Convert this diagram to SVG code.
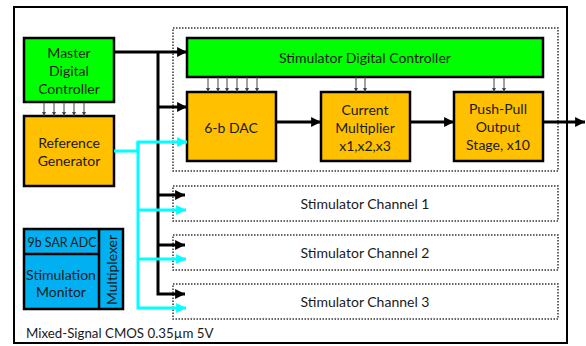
<svg xmlns="http://www.w3.org/2000/svg" width="586" height="346" viewBox="0 0 586 346">
<defs>
<style>
.t{font-family:Lato,"Open Sans",sans-serif;font-size:14px;fill:#1a1a1a;text-anchor:middle;dominant-baseline:central}
.box{stroke:#000;stroke-width:2.5}
.g{fill:#00ff00}
.o{fill:#ffc000}
.b{fill:#00b0f0}
.dot{fill:none;stroke:#333;stroke-width:1.5;stroke-dasharray:1.5 1.5}
.bk{fill:none;stroke:#000;stroke-width:3}
.cy{fill:none;stroke:#00ffff;stroke-width:3}
.sm{stroke:#444;stroke-width:1}
</style>
<marker id="ab" viewBox="0 0 10 10" refX="10" refY="5" markerWidth="3.3" markerHeight="3.3" orient="auto" markerUnits="strokeWidth"><path d="M0,0 L10,5 L0,10 z" fill="#000"/></marker>
<marker id="ac" viewBox="0 0 10 10" refX="10" refY="5" markerWidth="3.3" markerHeight="3.3" orient="auto" markerUnits="strokeWidth"><path d="M0,0 L10,5 L0,10 z" fill="#00ffff"/></marker>
<marker id="as" viewBox="0 0 10 10" refX="10" refY="5" markerWidth="4.5" markerHeight="4.5" orient="auto" markerUnits="strokeWidth"><path d="M0,0 L10,5 L0,10 z" fill="#444"/></marker>
</defs>
<rect x="0" y="0" width="586" height="346" fill="#fff"/>
<rect x="14" y="7" width="553" height="336" fill="#fff" stroke="#000" stroke-width="2"/>
<g id="stim0"><rect class="dot" x="173" y="28" width="385" height="143"/></g>
<g id="ch1"><rect class="dot" x="173" y="186" width="385" height="35"/><text class="t" x="365" y="203">Stimulator Channel 1</text></g>
<g id="ch2"><rect class="dot" x="173" y="235" width="385" height="35"/><text class="t" x="365" y="252">Stimulator Channel 2</text></g>
<g id="ch3"><rect class="dot" x="173" y="284" width="385" height="35"/><text class="t" x="365" y="301">Stimulator Channel 3</text></g>
<g id="mdc"><rect class="box g" x="24" y="38" width="90" height="64"/><text class="t" x="69" y="52">Master</text><text class="t" x="69" y="70">Digital</text><text class="t" x="69" y="88">Controller</text></g>
<g id="ref"><rect class="box o" x="24" y="116" width="90" height="70"/><text class="t" x="69" y="142">Reference</text><text class="t" x="69" y="160">Generator</text></g>
<g id="sdc"><rect class="box g" x="187" y="38" width="356" height="39"/><text class="t" x="365" y="57">Stimulator Digital Controller</text></g>
<g id="dac"><rect class="box o" x="187" y="92" width="89" height="69"/><text class="t" x="231" y="127">6-b DAC</text></g>
<g id="cm"><rect class="box o" x="321" y="92" width="89" height="69"/><text class="t" x="365" y="109">Current</text><text class="t" x="365" y="127">Multiplier</text><text class="t" x="365" y="145">x1,x2,x3</text></g>
<g id="pp"><rect class="box o" x="454" y="92" width="89" height="69"/><text class="t" x="498" y="108">Push-Pull</text><text class="t" x="498" y="126">Output</text><text class="t" x="498" y="144">Stage, x10</text></g>
<g id="mon"><rect class="box b" x="24" y="229" width="99" height="80"/><line x1="99" y1="229" x2="99" y2="309" stroke="#000" stroke-width="2.5"/><line x1="24" y1="254" x2="99" y2="254" stroke="#000" stroke-width="2.5"/><text class="t" x="62" y="242" style="font-size:13.5px" textLength="69" lengthAdjust="spacingAndGlyphs">9b SAR ADC</text><text class="t" x="61" y="274">Stimulation</text><text class="t" x="61" y="291">Monitor</text><text class="t" transform="translate(111,270) rotate(-90)" x="0" y="0">Multiplexer</text></g>
<g id="label"><text class="t" x="26" y="333" style="text-anchor:start;font-size:13.3px">Mixed-Signal CMOS 0.35µm 5V</text></g>
<g id="connectors">
<polyline class="bk" points="114,52 187,52" marker-end="url(#ab)"/>
<polyline class="bk" points="158,52 158,294 185,294" marker-end="url(#ab)"/>
<polyline class="bk" points="158,107 187,107" marker-end="url(#ab)"/>
<polyline class="bk" points="158,195 185,195" marker-end="url(#ab)"/>
<polyline class="bk" points="158,245 185,245" marker-end="url(#ab)"/>
<polyline class="bk" points="276,122 321,122" marker-end="url(#ab)"/>
<polyline class="bk" points="410,122 454,122" marker-end="url(#ab)"/>
<polyline class="bk" points="543,122 585,122" marker-end="url(#ab)"/>
<polyline class="cy" points="114,151 138,151 138,142 187,142" marker-end="url(#ac)"/>
<polyline class="cy" points="138,142 138,308 186,308" marker-end="url(#ac)"/>
<polyline class="cy" points="138,210 186,210" marker-end="url(#ac)"/>
<polyline class="cy" points="138,259 186,259" marker-end="url(#ac)"/>
<g class="sm">
<line x1="44" y1="102" x2="44" y2="116" marker-end="url(#as)"/>
<line x1="54" y1="102" x2="54" y2="116" marker-end="url(#as)"/>
<line x1="64" y1="102" x2="64" y2="116" marker-end="url(#as)"/>
<line x1="74" y1="102" x2="74" y2="116" marker-end="url(#as)"/>
<line x1="84" y1="102" x2="84" y2="116" marker-end="url(#as)"/>
<line x1="208" y1="77" x2="208" y2="92" marker-end="url(#as)"/>
<line x1="218" y1="77" x2="218" y2="92" marker-end="url(#as)"/>
<line x1="227" y1="77" x2="227" y2="92" marker-end="url(#as)"/>
<line x1="237" y1="77" x2="237" y2="92" marker-end="url(#as)"/>
<line x1="247" y1="77" x2="247" y2="92" marker-end="url(#as)"/>
<line x1="257" y1="77" x2="257" y2="92" marker-end="url(#as)"/>
<line x1="356" y1="77" x2="356" y2="92" marker-end="url(#as)"/>
<line x1="365" y1="77" x2="365" y2="92" marker-end="url(#as)"/>
<line x1="494" y1="77" x2="494" y2="92" marker-end="url(#as)"/>
<line x1="504" y1="77" x2="504" y2="92" marker-end="url(#as)"/>
</g>
</g>
</svg>
